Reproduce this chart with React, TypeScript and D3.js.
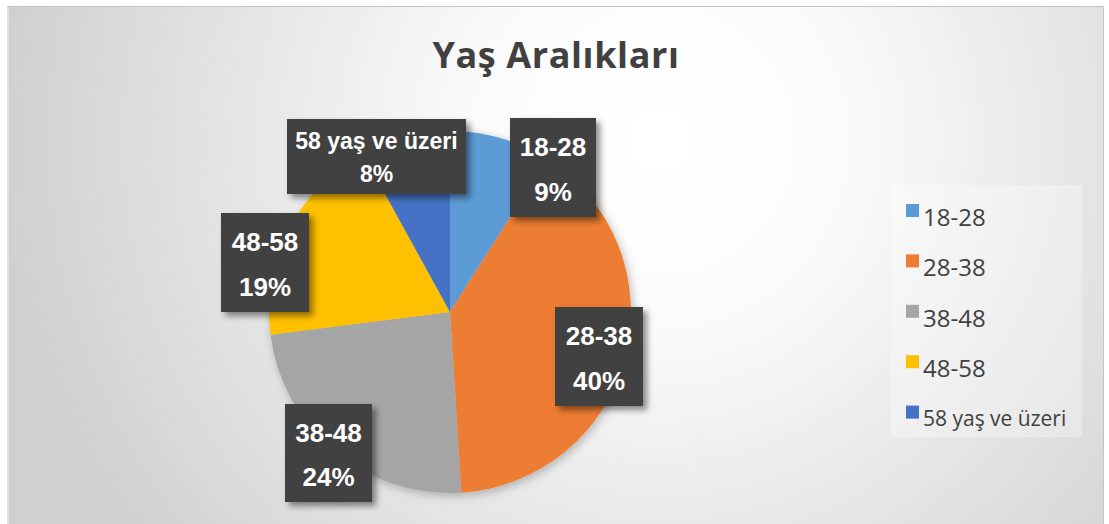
import React from "react";
import * as d3 from "d3";

const categories = ["18-28", "28-38", "38-48", "48-58", "58 yaş ve üzeri"];
const values = [9, 40, 24, 19, 8];
const percentLabels = ["9%", "40%", "24%", "19%", "8%"];
const colors = ["#5B9BD5", "#ED7D31", "#A5A5A5", "#FFC000", "#4472C4"];
const title = "Yaş Aralıkları";

// layout of the data-label boxes (x, y, w, h, font size, line offsets)
const labelLayout = [
  { x: 510, y: 118, w: 86, h: 99, fs: 26, l1: 38, l2: 83 },
  { x: 555, y: 307, w: 88, h: 99, fs: 26, l1: 38, l2: 83 },
  { x: 285, y: 404, w: 87, h: 98, fs: 26, l1: 38, l2: 82 },
  { x: 221, y: 213, w: 88, h: 99, fs: 26, l1: 38, l2: 83 },
  { x: 287, y: 119, w: 179, h: 75, fs: 23, l1: 30, l2: 63 },
];

const W = 1109;
const H = 524;
const cx = 450;
const cy = 312;
const R = 181;

export default function App() {
  const pie = d3.pie<number>().sort(null).value((d) => d)(values);
  const arc = d3.arc<d3.PieArcDatum<number>>().innerRadius(0).outerRadius(R);

  const legendY = d3.scaleBand<number>().domain(d3.range(categories.length)).range([185, 437]);

  return (
    <svg width={W} height={H} style={{ position: "absolute", left: 0, top: 0 }}>
      <defs>
        <radialGradient id="bg" gradientUnits="userSpaceOnUse" cx={660} cy={140} r={660}>
          <stop offset="0" stopColor="#ffffff" />
          <stop offset="0.28" stopColor="#fbfbfb" />
          <stop offset="1" stopColor="#d0d0d0" />
        </radialGradient>
        <filter id="pieShadow" x="-20%" y="-20%" width="140%" height="140%">
          <feDropShadow dx="2" dy="3" stdDeviation="5" floodColor="#000" floodOpacity="0.25" />
        </filter>
        <filter id="boxShadow" x="-20%" y="-20%" width="150%" height="150%">
          <feDropShadow dx="4" dy="4" stdDeviation="3" floodColor="#000" floodOpacity="0.45" />
        </filter>
        <pattern id="dots" width="4" height="4" patternUnits="userSpaceOnUse">
          <rect width="4" height="4" fill="#3f3f3f" />
          <circle cx="1" cy="1" r="0.7" fill="#4a4a4a" />
          <circle cx="3" cy="3" r="0.7" fill="#4a4a4a" />
        </pattern>
      </defs>
      <rect x={0} y={0} width={W} height={H} fill="#ffffff" />
      <rect x={7.5} y={6.5} width={1096} height={530} fill="url(#bg)" stroke="#c4c4c4" strokeWidth={1} />
      <line x1={8} y1={7} x2={8} y2={H} stroke="#e0e0e0" strokeWidth={2} />

      <text
        x={556}
        y={68}
        textAnchor="middle"
        fontFamily="'Open Sans', sans-serif"
        fontWeight={700}
        fontSize={36}
        letterSpacing={0.6}
        fill="#404040"
      >
        {title}
      </text>

      <g transform={`translate(${cx},${cy})`} filter="url(#pieShadow)">
        {pie.map((p, i) => (
          <path key={i} d={arc(p) || ""} fill={colors[i]} />
        ))}
      </g>

      {pie.map((p, i) => {
        const L = labelLayout[i];
        return (
          <g key={i}>
            <rect x={L.x} y={L.y} width={L.w} height={L.h} fill="url(#dots)" filter="url(#boxShadow)" />
            <text
              x={L.x + L.w / 2}
              y={L.y + L.l1}
              textAnchor="middle"
              fontFamily="'Liberation Sans', Arial, sans-serif"
              fontWeight={700}
              fontSize={L.fs}
              fill="#ffffff"
            >
              {categories[i]}
            </text>
            <text
              x={L.x + L.w / 2}
              y={L.y + L.l2}
              textAnchor="middle"
              fontFamily="'Liberation Sans', Arial, sans-serif"
              fontWeight={700}
              fontSize={L.fs}
              fill="#ffffff"
            >
              {percentLabels[i]}
            </text>
          </g>
        );
      })}

      <rect x={891} y={185} width={191} height={252} fill="#ffffff" fillOpacity={0.3} />
      {categories.map((c, i) => {
        const y0 = (legendY(i) as number) + 19;
        return (
          <g key={c}>
            <rect x={906} y={y0} width={13} height={13} fill={colors[i]} />
            <text
              x={923}
              y={y0 + 22 - (i === 4 ? 2 : 0)}
              fontFamily="'Open Sans', sans-serif"
              fontSize={i === 4 ? 21 : 24}
              fill="#404040"
            >
              {c}
            </text>
          </g>
        );
      })}
    </svg>
  );
}
